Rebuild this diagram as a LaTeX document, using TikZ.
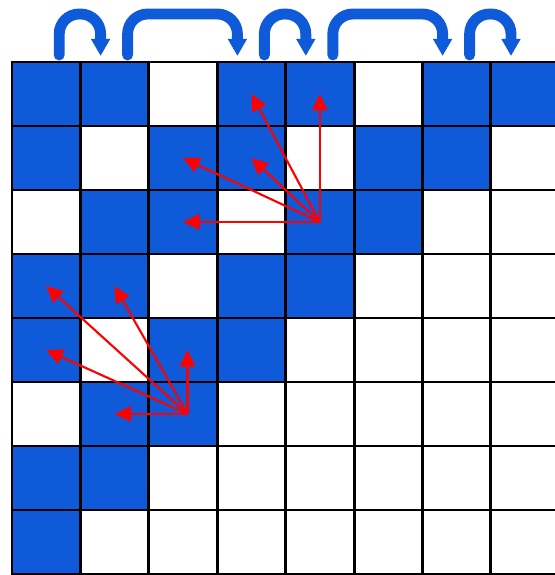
\documentclass[tikz,border=0pt]{standalone}
\usepackage{tikz}
\usetikzlibrary{arrows.meta}
\definecolor{tileblue}{RGB}{15,90,217}
\tikzset{
  cell/.style={draw=black, line width=1.7pt, minimum width=1.368cm, minimum height=1.28cm, inner sep=0pt, outer sep=0pt},
  ray/.style={-{Triangle[length=0.33cm, width=0.31cm]}, red, line width=1.2pt},
  hop/.style={-{Triangle[length=0.34cm, width=0.36cm]}, tileblue, line width=6.2pt, rounded corners=0.4cm, line cap=round}
}
\begin{document}
\begin{tikzpicture}
  \useasboundingbox (0,0) rectangle (11.08,-11.5);
  \foreach \r in {0,...,7}{
    \foreach \c in {0,...,7}{
      \pgfmathtruncatemacro{\k}{\r+\c}
      \pgfmathtruncatemacro{\on}{(\k<8) && (mod(\k,3)!=2)}
      \ifnum\on=1 \def\tone{tileblue}\else\def\tone{white}\fi
      \node[cell, fill=\tone] (c-\r-\c) at ({0.24+1.368*(\c+0.5)}, {-1.24-1.28*(\r+0.5)}) {};
    }
  }
  \foreach \a/\b in {0/1, 1/3, 3/4, 4/6, 6/7}
    \draw[hop] ([xshift=0.26cm, yshift=0.14cm]c-0-\a.north) -- ++(0,0.82) -| ([xshift=-0.28cm, yshift=0.12cm]c-0-\b.north);
  \foreach \t in {0-4, 0-3, 1-3, 1-2, 2-2}
    \draw[ray] (c-2-4.center) -- (c-\t.center);
  \coordinate (o2) at ([xshift=0.09cm]c-5-2.center);
  \foreach \t in {3-0, 3-1, 4-0, 5-1}
    \draw[ray] (o2) -- (c-\t.center);
  \draw[ray] (o2) -- ([xshift=0.09cm]c-4-2.center);
\end{tikzpicture}
\end{document}
